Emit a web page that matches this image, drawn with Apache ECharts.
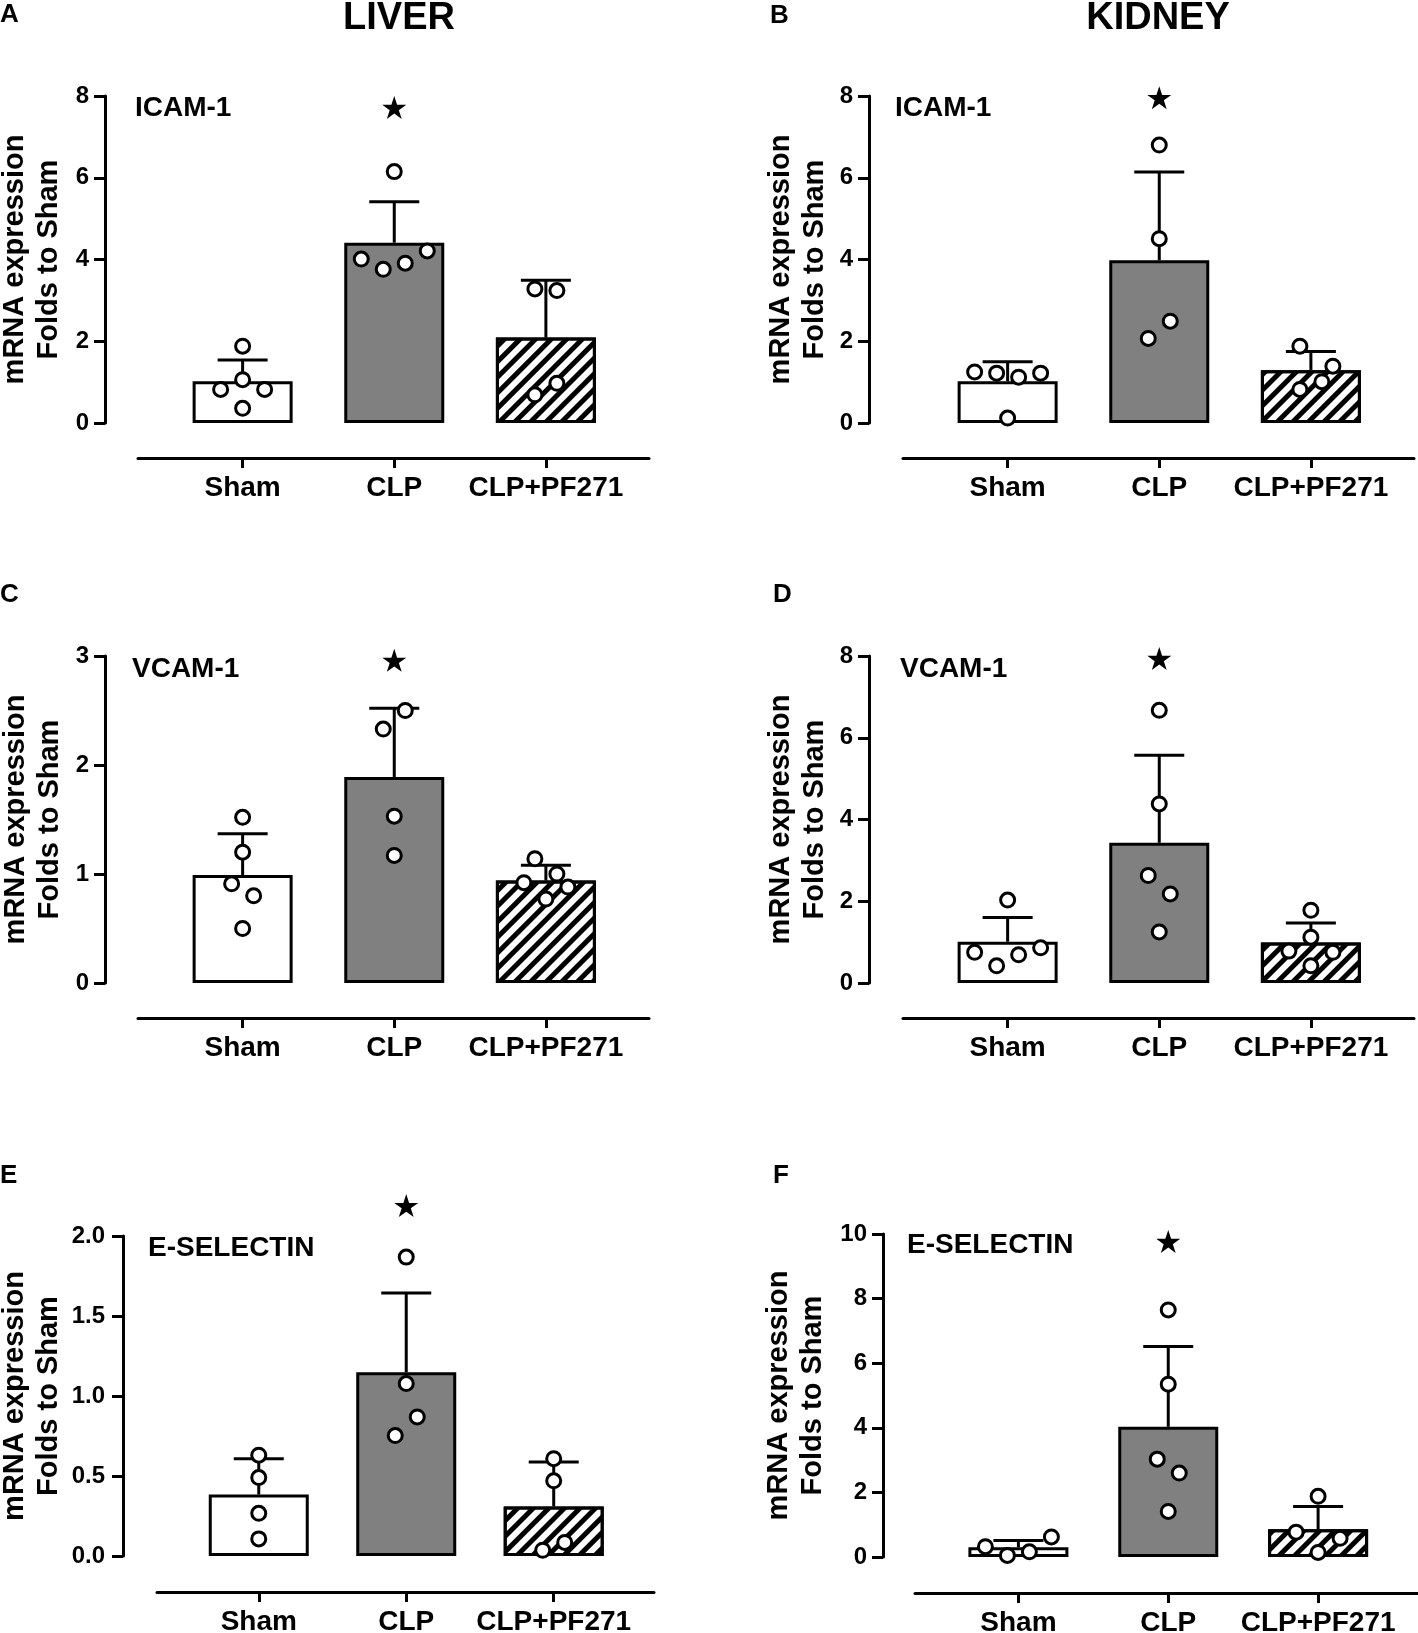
<!DOCTYPE html>
<html>
<head>
<meta charset="utf-8">
<script src="https://cdn.jsdelivr.net/npm/echarts@6/dist/echarts.min.js"></script>
<style>
  html, body { margin: 0; padding: 0; background: #fff; }
  #main { width: 1418px; height: 1633px; }
</style>
</head>
<body>
<div id="main"></div>
<script>
// groups on the x axis
var groups = ['Sham', 'CLP', 'CLP+PF271'];
var organs = ['LIVER', 'KIDNEY'];
var letters = ['A', 'B', 'C', 'D', 'E', 'F'];
var genes = ['ICAM-1', 'ICAM-1', 'VCAM-1', 'VCAM-1', 'E-SELECTIN', 'E-SELECTIN'];

// y axis ranges (tick labels)
var yMax = [8, 8, 3, 8, 2, 10];
var yStep = [2, 2, 1, 2, 0.5, 2];

// bar heights (mean) and top of the error bar
var meanA = [1.02, 4.41, 2.09], topA = [1.54, 5.41, 3.49];
var meanB = [1.02, 3.98, 1.29], topB = [1.50, 6.14, 1.75];
var meanC = [0.99, 1.89, 0.94], topC = [1.37, 2.52, 1.08];
var meanD = [1.01, 3.43, 0.99], topD = [1.60, 5.57, 1.47];
var meanE = [0.384, 1.148, 0.31], topE = [0.608, 1.643, 0.587];
var meanF = [0.30, 4.03, 0.857], topF = [0.51, 6.52, 1.566];

// individual animals
var dotsA = [[1.88, 1.06, 0.82, 0.82, 0.36], [6.15, 4.01, 3.76, 3.91, 4.21], [3.28, 3.24, 0.69, 0.97]];
var dotsB = [[1.25, 1.22, 1.12, 1.22, 0.12], [6.80, 4.51, 2.07, 2.49], [1.88, 1.39, 1.01, 0.82]];
var dotsC = [[1.52, 1.20, 0.91, 0.80, 0.50], [2.50, 2.33, 1.53, 1.17], [1.14, 1.00, 0.92, 0.88, 0.77]];
var dotsD = [[2.03, 0.75, 0.42, 0.69, 0.86], [6.67, 4.38, 2.63, 2.18, 1.25], [1.78, 1.12, 0.78, 0.75, 0.42]];
var dotsE = [[0.63, 0.49, 0.267, 0.107], [1.868, 1.078, 0.869, 0.753], [0.608, 0.47, 0.085, 0.036]];
var dotsF = [[0.32, 0.05, 0.16, 0.62], [7.65, 5.35, 3.03, 2.60, 1.41], [1.88, 0.77, 0.58, 0.14]];

// significance star height
var starAt = [7.72, 7.96, 2.96, 7.94, 2.19, 9.77];

// horizontal scatter of the dots (steps of ~11px)
var jitA = [[0, 0, -2, 2, 0], [0, -3, -1, 1, 3], [-1, 1, -1, 1]];
var jitB = [[-3, -1, 1, 3, 0], [0, 0, -1, 1], [-1, 2, 1, -1]];
var jitC = [[0, 0, -1, 1, 0], [1, -1, 0, 0], [-1, 1, -2, 2, 0]];
var jitD = [[0, -3, -1, 1, 3], [0, 0, -1, 1, 0], [0, 0, -2, 2, 0]];
var jitE = [[0, 0, 0, 0], [0, 0, 1, -1], [0, 0, 1, -1]];
var jitF = [[-3, -1, 1, 3], [0, 0, -1, 1, 0], [0, -2, 2, 0]];

var means = [meanA, meanB, meanC, meanD, meanE, meanF];
var tops = [topA, topB, topC, topD, topE, topF];
var dots = [dotsA, dotsB, dotsC, dotsD, dotsE, dotsF];
var jits = [jitA, jitB, jitC, jitD, jitE, jitF];

// panel placement
var layout = [
    {left: 138, top: 96, width: 511, height: 327, yOff: 33, gap: 39, margin: 16, xOff: 35},
    {left: 903, top: 96, width: 511, height: 327, yOff: 34, gap: 37, margin: 16, xOff: 35},
    {left: 138, top: 656, width: 511, height: 327, yOff: 33, gap: 38, margin: 16, xOff: 35},
    {left: 903, top: 656, width: 511, height: 327, yOff: 34, gap: 37, margin: 16, xOff: 35},
    {left: 157, top: 1236, width: 497, height: 320, yOff: 34, gap: 57, margin: 18, xOff: 36},
    {left: 915, top: 1234, width: 505, height: 323, yOff: 32, gap: 53, margin: 16, xOff: 36}
];
var geneLabelPos = [[135, 108], [895, 108], [132, 669], [900, 669], [148, 1248], [907, 1245]];
var letterPos = [[0, 15], [770, 16], [0, 595], [773, 595], [0, 1176], [773, 1176]];

var FONT = '"Liberation Sans", Arial, Helvetica, sans-serif';
var STAR = 'path://M12,0 L14.8,8.6 L23.8,8.6 L16.5,13.9 L19.3,22.5 L12,17.2 L4.7,22.5 L7.5,13.9 L0.2,8.6 L9.2,8.6 Z';

var barStyles = [
    {color: '#ffffff', borderColor: '#000', borderWidth: 3},
    {color: '#808080', borderColor: '#000', borderWidth: 3},
    {
        color: '#ffffff', borderColor: '#000', borderWidth: 3,
        decal: {
            symbol: 'rect', symbolSize: 1,
            dashArrayX: [1, 0], dashArrayY: [5, 5.5],
            rotation: -Math.PI / 4, color: '#000'
        }
    }
];

var grids = [], xAxes = [], yAxes = [], series = [], graphics = [];

layout.forEach(function (L, i) {
    grids.push({left: L.left, top: L.top, width: L.width, height: L.height, outerBoundsMode: 'none', containLabel: false});

    xAxes.push({
        type: 'value', gridIndex: i, min: -0.69, max: 2.68, position: 'bottom', offset: L.xOff,
        splitLine: {show: false},
        axisLine: {show: true, onZero: false, lineStyle: {color: '#000', width: 3}},
        axisTick: {show: true, customValues: [0, 1, 2], length: 10, lineStyle: {color: '#000', width: 3}},
        axisLabel: {
            show: true, customValues: [0, 1, 2], margin: 16,
            fontSize: 28, fontWeight: 'bold', fontFamily: FONT, color: '#000',
            formatter: function (v) { return groups[Math.round(v)]; }
        }
    });

    yAxes.push({
        type: 'value', gridIndex: i, min: 0, max: yMax[i], interval: yStep[i],
        position: 'left', offset: L.yOff,
        splitLine: {show: false},
        axisLine: {show: true, onZero: false, lineStyle: {color: '#000', width: 3}},
        axisTick: {show: true, length: 11, lineStyle: {color: '#000', width: 3}},
        axisLabel: {
            margin: L.margin, fontSize: 24, fontWeight: 'bold', fontFamily: FONT, color: '#000',
            formatter: function (v) { return yStep[i] < 1 ? v.toFixed(1) : String(v); }
        },
        name: 'mRNA expression\nFolds to Sham',
        nameLocation: 'middle', nameGap: L.gap, nameMoveOverlap: false,
        nameTextStyle: {fontSize: 29, fontWeight: 'bold', fontFamily: FONT, color: '#000', lineHeight: 34}
    });

    // bars
    series.push({
        type: 'bar', xAxisIndex: i, yAxisIndex: i, barWidth: 100, z: 2, silent: true,
        data: means[i].map(function (m, k) { return {value: [k, m], itemStyle: barStyles[k]}; })
    });

    // upper error bars
    series.push({
        type: 'custom', xAxisIndex: i, yAxisIndex: i, z: 3, silent: true, clip: false,
        data: means[i].map(function (m, k) { return [k, m, tops[i][k]]; }),
        renderItem: function (params, api) {
            var p0 = api.coord([api.value(0), api.value(1)]);
            var p1 = api.coord([api.value(0), api.value(2)]);
            var st = {stroke: '#000', lineWidth: 3};
            return {
                type: 'group',
                children: [
                    {type: 'line', shape: {x1: p0[0], y1: p0[1], x2: p1[0], y2: p1[1]}, style: st},
                    {type: 'line', shape: {x1: p1[0] - 25, y1: p1[1], x2: p1[0] + 25, y2: p1[1]}, style: st}
                ]
            };
        }
    });

    // individual points
    var pts = [];
    dots[i].forEach(function (arr, k) {
        arr.forEach(function (v, n) {
            pts.push({value: [k, v], symbolOffset: [jits[i][k][n] * 11, 0]});
        });
    });
    series.push({
        type: 'scatter', xAxisIndex: i, yAxisIndex: i, z: 4, silent: true, clip: false,
        symbol: 'circle', symbolSize: 14,
        itemStyle: {color: '#fff', borderColor: '#000', borderWidth: 3, opacity: 1},
        data: pts
    });

    // star over CLP
    series.push({
        type: 'scatter', xAxisIndex: i, yAxisIndex: i, z: 4, silent: true, clip: false,
        symbol: STAR, symbolSize: [24, 23],
        itemStyle: {color: '#000', opacity: 1},
        data: [[1, starAt[i]]]
    });

    graphics.push({
        type: 'text', x: geneLabelPos[i][0], y: geneLabelPos[i][1],
        style: {text: genes[i], font: 'bold 28px ' + FONT, fill: '#000', align: 'left', verticalAlign: 'middle'}
    });
    graphics.push({
        type: 'text', x: letterPos[i][0], y: letterPos[i][1],
        style: {text: letters[i], font: 'bold 26px ' + FONT, fill: '#000', align: 'left', verticalAlign: 'middle'}
    });
});

graphics.push({
    type: 'text', x: 399, y: 19,
    style: {text: organs[0], font: 'bold 38px ' + FONT, fill: '#000', align: 'center', verticalAlign: 'middle'}
});
graphics.push({
    type: 'text', x: 1158, y: 19,
    style: {text: organs[1], font: 'bold 38px ' + FONT, fill: '#000', align: 'center', verticalAlign: 'middle'}
});

var myChart = echarts.init(document.getElementById('main'), null, {renderer: 'canvas'});
var option = {
    backgroundColor: '#fff',
    animation: false,
    tooltip: {show: false},
    grid: grids,
    xAxis: xAxes,
    yAxis: yAxes,
    series: series,
    graphic: {elements: graphics}
};
myChart.setOption(option);
</script>
</body>
</html>
